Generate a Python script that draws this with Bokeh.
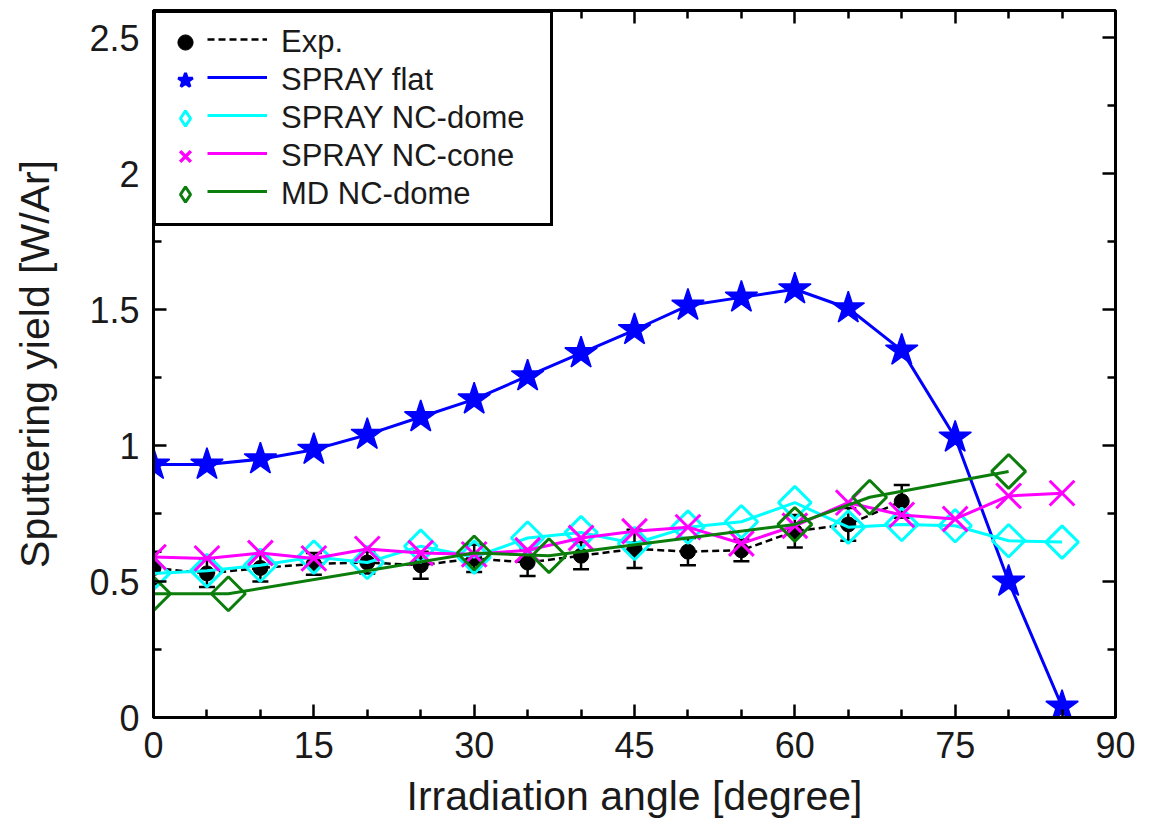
import numpy as np
from bokeh.plotting import figure
from bokeh.models import (Range1d, LinearAxis, FixedTicker, CustomJSTickFormatter, Legend,
                          LegendItem, Whisker, ColumnDataSource, TeeHead)
from bokeh.core.properties import value
from bokeh.embed import file_html
from bokeh.resources import INLINE

# ---------------- data ----------------
angles = [0, 5, 10, 15, 20, 25, 30, 35, 40, 45, 50, 55, 60, 65, 70, 75, 80, 85]
spray_flat = [0.93, 0.93, 0.95, 0.985, 1.04, 1.105, 1.17, 1.255, 1.34, 1.425,
              1.515, 1.545, 1.575, 1.505, 1.35, 1.03, 0.50, 0.04]
spray_nc_dome = [0.53, 0.54, 0.56, 0.59, 0.57, 0.63, 0.59, 0.66, 0.68, 0.64,
                 0.70, 0.72, 0.79, 0.70, 0.71, 0.705, 0.65, 0.645]
spray_nc_cone = [0.59, 0.585, 0.605, 0.585, 0.62, 0.605, 0.60, 0.615, 0.66, 0.685,
                 0.70, 0.64, 0.705, 0.79, 0.745, 0.73, 0.815, 0.825]

exp_angles = [0, 5, 10, 15, 20, 25, 30, 35, 40, 45, 50, 55, 60, 65, 70]
exp_yield = [0.55, 0.53, 0.55, 0.565, 0.57, 0.56, 0.585, 0.57, 0.595, 0.62,
             0.61, 0.615, 0.685, 0.71, 0.795]
exp_err = [0.06, 0.05, 0.05, 0.04, 0.04, 0.05, 0.05, 0.05, 0.05, 0.07,
           0.05, 0.04, 0.06, 0.06, 0.06]

md_angles = [0, 7, 30, 37, 60, 67, 80]
md_nc_dome = [0.455, 0.455, 0.605, 0.595, 0.71, 0.81, 0.905]

x_ticks = [0, 15, 30, 45, 60, 75, 90]
x_minor = [5, 10, 20, 25, 35, 40, 50, 55, 65, 70, 80, 85]
y_ticks = [0, 0.5, 1, 1.5, 2, 2.5]
y_minor = [0.25, 0.75, 1.25, 1.75, 2.25]

labels = ["Exp.", "SPRAY flat", "SPRAY NC-dome", "SPRAY NC-cone", "MD NC-dome"]

# ---------------- figure ----------------
FONT = "Liberation Sans"
BLUE, CYAN, MAGENTA, GREEN = "#0000ff", "#00ffff", "#ff00ff", "#0b7d0b"

p = figure(width=1163, height=828, output_backend="svg", toolbar_location=None,
           x_range=Range1d(0, 90), y_range=Range1d(0, 2.6),
           min_border_left=153, min_border_right=48, min_border_top=10,
           min_border_bottom=111, x_axis_label="Irradiation angle [degree]",
           y_axis_label="Sputtering yield [W/Ar]")
p.grid.visible = False
p.outline_line_color = "black"
p.outline_line_width = 3
p.border_fill_color = "white"
p.background_fill_color = "white"


def style_axis(ax, labels_on=True):
    ax.axis_line_width = 3
    ax.axis_line_color = "black"
    ax.major_tick_in = 13
    ax.major_tick_out = 0
    ax.minor_tick_in = 8
    ax.minor_tick_out = 0
    ax.major_tick_line_width = 2.5
    ax.minor_tick_line_width = 2.5
    ax.major_tick_line_color = "black"
    ax.minor_tick_line_color = "black"
    ax.major_label_text_font = FONT
    ax.major_label_text_color = "#1a1a1a"
    ax.major_label_text_font_size = "36px"
    if labels_on:
        ax.major_label_standoff = 14
    else:
        ax.major_label_standoff = 0
        ax.formatter = CustomJSTickFormatter(code="return ''")
    ax.axis_label_text_font = FONT
    ax.axis_label_text_font_size = "41px"
    ax.axis_label_text_font_style = "normal"
    ax.axis_label_text_color = "#1a1a1a"


xt = FixedTicker(ticks=x_ticks, minor_ticks=x_minor)
yt = FixedTicker(ticks=y_ticks, minor_ticks=y_minor)

p.xaxis.ticker = xt
p.yaxis.ticker = yt
p.yaxis.formatter = CustomJSTickFormatter(code="return tick.toString()")
style_axis(p.xaxis[0])
style_axis(p.yaxis[0])
p.xaxis.axis_label_standoff = 12
p.yaxis.axis_label_standoff = 28

top_ax = LinearAxis(ticker=xt)
right_ax = LinearAxis(ticker=yt)
style_axis(top_ax, labels_on=False)
style_axis(right_ax, labels_on=False)
p.add_layout(top_ax, "above")
p.add_layout(right_ax, "right")

# ---------------- data glyphs ----------------
err_src = ColumnDataSource(dict(
    x=exp_angles,
    upper=[v + e for v, e in zip(exp_yield, exp_err)],
    lower=[v - e for v, e in zip(exp_yield, exp_err)]))
wh = Whisker(base="x", upper="upper", lower="lower", source=err_src,
             dimension="height", line_color="black", line_width=2.5,
             upper_head=TeeHead(size=16, line_width=2.5, line_color="black"),
             lower_head=TeeHead(size=16, line_width=2.5, line_color="black"),
             level="underlay")
p.add_layout(wh)

l_exp = p.line(exp_angles, exp_yield, line_color="black", line_width=2.5, line_dash="7 4")
m_exp = p.scatter(exp_angles, exp_yield, marker="circle", size=15,
                  fill_color="black", line_color="black")

l_flat = p.line(angles, spray_flat, line_color=BLUE, line_width=3)
m_flat = p.scatter(angles, spray_flat, marker="star", size=34,
                   fill_color=BLUE, line_color=BLUE, line_width=1.5)

l_dome = p.line(angles, spray_nc_dome, line_color=CYAN, line_width=3)
m_dome = p.scatter(angles, spray_nc_dome, marker="square", angle=np.pi / 4, size=23,
                   fill_color=None, line_color=CYAN, line_width=3)

l_cone = p.line(angles, spray_nc_cone, line_color=MAGENTA, line_width=3)
m_cone = p.scatter(angles, spray_nc_cone, marker="x", size=35,
                   line_color=MAGENTA, line_width=3)

l_md = p.line(md_angles, md_nc_dome, line_color=GREEN, line_width=3)
m_md = p.scatter(md_angles, md_nc_dome, marker="square", angle=np.pi / 4, size=24,
                 fill_color=None, line_color=GREEN, line_width=3)

# legend-only glyph styles (hidden in the plot, shown in the key)
k_flat = p.scatter(angles, spray_flat, marker="star", fill_color=BLUE,
                   line_color=BLUE, line_width=3, visible=False)
k_dome = p.scatter(angles, spray_nc_dome, marker="diamond", fill_color=None,
                   line_color=CYAN, line_width=3, visible=False)
k_cone = p.scatter(angles, spray_nc_cone, marker="x", line_color=MAGENTA,
                   line_width=3.5, visible=False)
k_md = p.scatter(md_angles, md_nc_dome, marker="diamond", fill_color=None,
                 line_color=GREEN, line_width=3, visible=False)

# ---------------- legends ----------------
leg_markers = Legend(
    items=[LegendItem(label=value(labels[0]), renderers=[m_exp]),
           LegendItem(label=value(labels[1]), renderers=[k_flat]),
           LegendItem(label=value(labels[2]), renderers=[k_dome]),
           LegendItem(label=value(labels[3]), renderers=[k_cone]),
           LegendItem(label=value(labels[4]), renderers=[k_md])],
    location="top_left", margin=0, padding=10, spacing=0,
    glyph_width=38, glyph_height=38, label_standoff=77, label_width=259,
    label_height=36, border_line_color="black", border_line_width=3,
    border_line_alpha=1, background_fill_color="white", background_fill_alpha=1,
    label_text_font=FONT, label_text_font_size="31px", label_text_color="#1a1a1a")
p.add_layout(leg_markers)

leg_lines = Legend(
    items=[LegendItem(label=value(""), renderers=[l_exp]),
           LegendItem(label=value(""), renderers=[l_flat]),
           LegendItem(label=value(""), renderers=[l_dome]),
           LegendItem(label=value(""), renderers=[l_cone]),
           LegendItem(label=value(""), renderers=[l_md])],
    location=(44, 497), margin=0, padding=10, spacing=0,
    glyph_width=60, glyph_height=38, label_standoff=0, label_width=0,
    label_height=36, border_line_alpha=0, background_fill_alpha=0,
    label_text_font=FONT, label_text_font_size="31px")
p.add_layout(leg_lines)

open("out.html", "w").write(file_html(p, INLINE))
